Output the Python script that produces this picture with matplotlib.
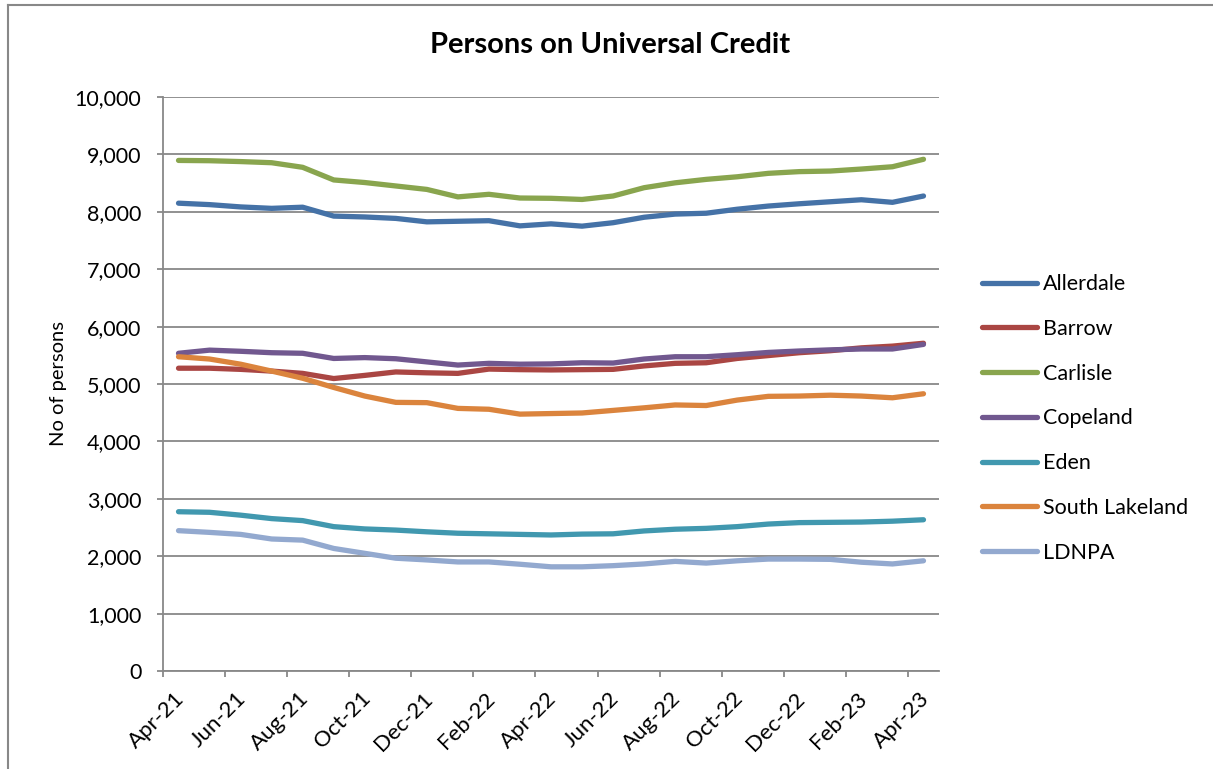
import numpy as np
import matplotlib.pyplot as plt
import matplotlib.transforms as mtransforms
from matplotlib.lines import Line2D

plt.rcParams['font.family'] = ['Lato', 'DejaVu Sans']

# monthly data Apr-21 .. Apr-23
months = ['Apr-21', 'May-21', 'Jun-21', 'Jul-21', 'Aug-21', 'Sep-21', 'Oct-21', 'Nov-21', 'Dec-21',
          'Jan-22', 'Feb-22', 'Mar-22', 'Apr-22', 'May-22', 'Jun-22', 'Jul-22', 'Aug-22', 'Sep-22',
          'Oct-22', 'Nov-22', 'Dec-22', 'Jan-23', 'Feb-23', 'Mar-23', 'Apr-23']

allerdale = [8150, 8125, 8085, 8060, 8080, 7925, 7910, 7885, 7825, 7835, 7845, 7755,
             7790, 7750, 7810, 7905, 7960, 7975, 8045, 8100, 8140, 8175, 8210, 8165, 8275]
barrow = [5275, 5275, 5255, 5225, 5185, 5095, 5150, 5210, 5195, 5185, 5260, 5250,
          5245, 5250, 5255, 5315, 5360, 5370, 5445, 5495, 5545, 5580, 5630, 5660, 5710]
carlisle = [8895, 8890, 8875, 8855, 8775, 8555, 8510, 8450, 8390, 8260, 8305, 8240,
            8235, 8215, 8275, 8420, 8505, 8565, 8610, 8670, 8700, 8710, 8745, 8785, 8915]
copeland = [5535, 5590, 5570, 5545, 5535, 5445, 5460, 5440, 5385, 5330, 5360, 5345,
            5350, 5370, 5365, 5435, 5475, 5475, 5510, 5550, 5575, 5595, 5610, 5610, 5690]
eden = [2775, 2765, 2715, 2655, 2620, 2515, 2475, 2455, 2425, 2400, 2390, 2380,
        2370, 2385, 2390, 2440, 2470, 2485, 2515, 2560, 2585, 2590, 2595, 2610, 2635]
south_lakeland = [5475, 5435, 5345, 5225, 5100, 4940, 4790, 4680, 4675, 4575, 4560, 4475,
                  4485, 4495, 4540, 4585, 4635, 4625, 4720, 4785, 4790, 4805, 4790, 4760, 4830]
ldnpa = [2445, 2415, 2380, 2300, 2280, 2135, 2050, 1965, 1935, 1900, 1900, 1860,
         1815, 1815, 1835, 1865, 1910, 1880, 1920, 1950, 1950, 1945, 1895, 1865, 1920]

series = [('Allerdale', allerdale, '#4572A7'),
          ('Barrow', barrow, '#AA4643'),
          ('Carlisle', carlisle, '#89A54E'),
          ('Copeland', copeland, '#71588F'),
          ('Eden', eden, '#4198AF'),
          ('South Lakeland', south_lakeland, '#DB843D'),
          ('LDNPA', ldnpa, '#93A9CF')]

fig = plt.figure(figsize=(12.13, 7.69), dpi=100)
ax = fig.add_axes([163 / 1213, 98 / 769, 776 / 1213, 574 / 769])

x = np.arange(len(months))
for name, vals, col in series:
    ax.plot(x, vals, color=col, lw=3.8, label=name, solid_capstyle='round')

ax.set_xlim(-0.5, len(months) - 0.5)
ax.set_ylim(0, 10000)
ax.set_yticks(range(0, 10001, 1000))
ax.set_yticklabels(['{:,}'.format(v) for v in range(0, 10001, 1000)], fontsize=15.5)
ax.grid(axis='y', color='#888888', lw=1.3)
ax.set_axisbelow(True)

for s in ['top', 'right']:
    ax.spines[s].set_visible(False)
for s in ['left', 'bottom']:
    ax.spines[s].set_color('#888888')
    ax.spines[s].set_linewidth(1.3)
ax.tick_params(axis='both', color='#888888', width=1.3, length=4.5)
ax.tick_params(axis='y', pad=11)
ax.tick_params(axis='x', pad=8)

ticks = np.arange(-0.5, len(months) - 0.5, 2)
ax.set_xticks(ticks)
ax.set_xticklabels(months[::2], rotation=45, ha='right', rotation_mode='anchor', fontsize=16)
# nudge rotated date labels to the right like the original
shift = mtransforms.ScaledTranslation(11 / 100, 0, fig.dpi_scale_trans)
for lab in ax.get_xticklabels():
    lab.set_transform(lab.get_transform() + shift)

ax.set_ylabel('No of persons', fontsize=14.5)
ax.yaxis.set_label_coords(-0.124, 0.5)
fig.text(0.503, 1 - 45 / 769, 'Persons on Universal Credit', fontsize=21, fontweight='bold',
         ha='center', va='center')

ax.legend(loc='upper left', bbox_to_anchor=(1.031, 0.725), frameon=False, fontsize=15.5,
          handlelength=2.55, handletextpad=0.25, labelspacing=1.15)

# outer chart frame
fig.add_artist(Line2D([8 / 1213, 8 / 1213], [0, 1 - 5 / 769], color='#888888', lw=1.5))
fig.add_artist(Line2D([8 / 1213, 1], [1 - 5 / 769, 1 - 5 / 769], color='#888888', lw=1.5))

fig.savefig('out.png', dpi=100)
